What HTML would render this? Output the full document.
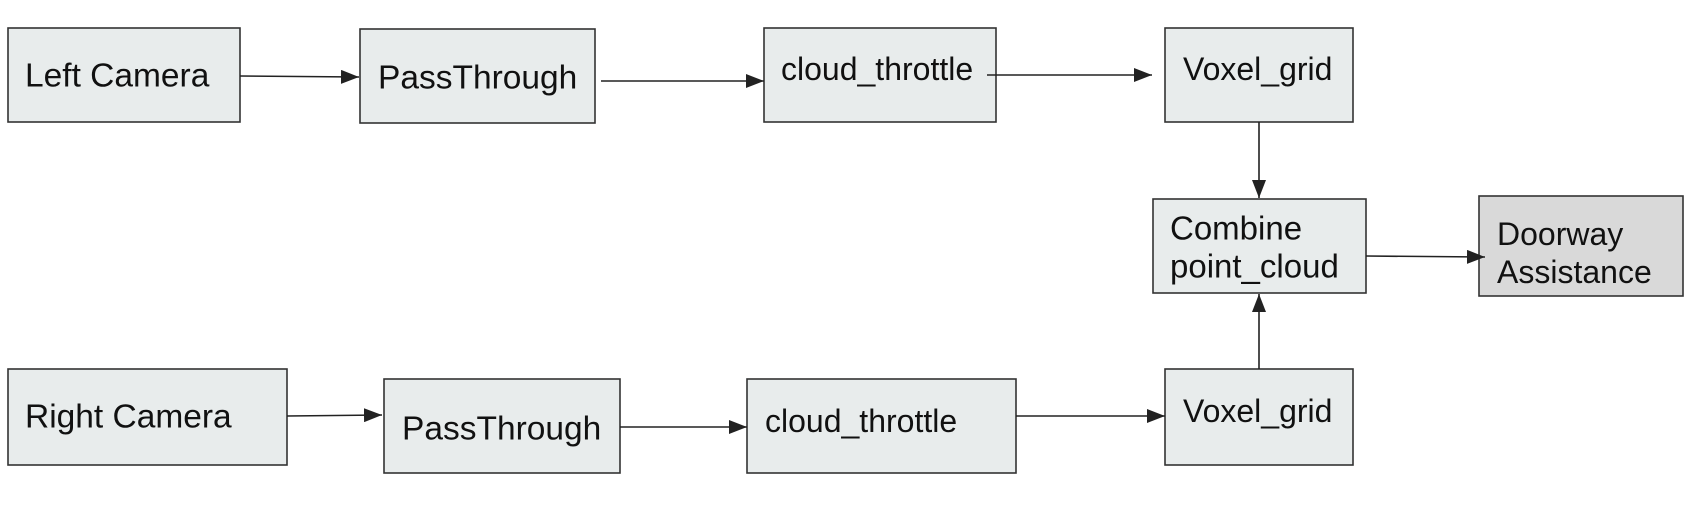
<!DOCTYPE html>
<html><head><meta charset="utf-8"><style>
html,body{margin:0;padding:0;background:#fff;}
svg{display:block;}
text{font-family:"Liberation Sans",sans-serif;fill:#111;dominant-baseline:central;}
</style></head><body>
<svg width="1694" height="508" viewBox="0 0 1694 508" xmlns="http://www.w3.org/2000/svg">
<defs>
<marker id="b" markerWidth="18" markerHeight="14" refX="18" refY="7" orient="auto" markerUnits="userSpaceOnUse" viewBox="0 0 18 14"><path d="M0,0L18,7L0,14z" fill="#222"/></marker></defs>
<g fill="#e8ecec" stroke="#333" stroke-width="1.6">
<rect x="8" y="28" width="232" height="94"/>
<rect x="360" y="29" width="235" height="94"/>
<rect x="764" y="28" width="232" height="94"/>
<rect x="1165" y="28" width="188" height="94"/>
<rect x="1153" y="199" width="213" height="94"/>
<rect x="1479" y="196" width="204" height="100" fill="#d9d9d9"/>
<rect x="8" y="369" width="279" height="96"/>
<rect x="384" y="379" width="236" height="94"/>
<rect x="747" y="379" width="269" height="94"/>
<rect x="1165" y="369" width="188" height="96"/>
</g>
<g stroke="#222" stroke-width="1.6" fill="none" marker-end="url(#b)">
<path d="M240,76L359,77"/>
<path d="M601,81L764,81"/>
<path d="M987,75L1152,75"/>
<path d="M1259,122L1259,198"/>
<path d="M1366,256L1485,257"/>
<path d="M287,416L382,415"/>
<path d="M620,427L747,427"/>
<path d="M1016,416L1165,416"/>
<path d="M1259,369L1259,294"/>
</g>
<g font-size="32">
<text x="25" y="76" font-size="33.5">Left Camera</text>
<text x="378" y="78" font-size="33.5">PassThrough</text>
<text x="781" y="69">cloud_throttle</text>
<text x="1183" y="69">Voxel_grid</text>
<text x="1170" y="228" font-size="33">Combine</text>
<text x="1170" y="266" font-size="33">point_cloud</text>
<text x="1497" y="234">Doorway</text>
<text x="1497" y="272">Assistance</text>
<text x="25" y="417" font-size="33.5">Right Camera</text>
<text x="402" y="429" font-size="33.5">PassThrough</text>
<text x="765" y="421">cloud_throttle</text>
<text x="1183" y="411">Voxel_grid</text>
</g>
</svg>
</body></html>
